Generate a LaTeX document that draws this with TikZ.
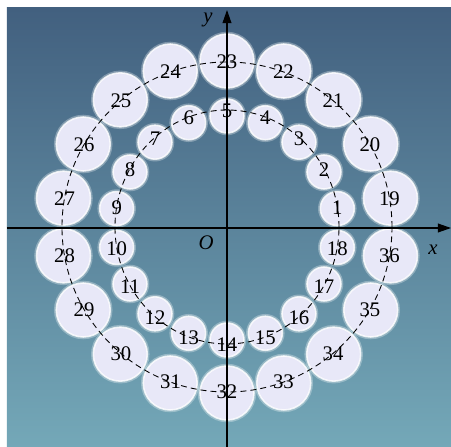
\documentclass[tikz,border=0pt]{standalone}
\usepackage{fontspec}
\setmainfont{Liberation Serif}
\usepackage{tikz}
\usetikzlibrary{arrows.meta,calc}
\definecolor{bgtop}{HTML}{42607F}
\definecolor{bgbottom}{HTML}{74A8B8}
\definecolor{discfill}{HTML}{E8E8F8}

\begin{document}
\begin{tikzpicture}[x=0.02cm, y=0.02cm,
  disc/.style={circle, fill=discfill, draw=white, draw opacity=0.8, line width=0.9pt, inner sep=0pt,
    preaction={draw=white, draw opacity=0.3, line width=2.6pt}},
  small/.style={disc, minimum size=0.68cm},
  big/.style={disc, minimum size=1.08cm},
  num/.style={font=\fontsize{11.8}{12}\selectfont, inner sep=0pt},
  ring/.style={dash pattern=on 3.4pt off 2.3pt, line width=0.5pt},
  axis/.style={-{Triangle[length=7.4pt, width=5pt]}, line width=0.6pt}
]
\useasboundingbox (-227,228) rectangle (224,-219);
\shade[top color=bgtop, bottom color=bgbottom] (-220,220) rectangle (224,-219);

% discs of the two rings
\foreach \k in {1,...,18} {
  \pgfmathsetmacro\a{20*\k-10}
  \node[small] (in\k) at (\a:112) {};
  \node[big] (out\k) at ($(0,1)+(\a:166)$) {};
}

\draw[ring] (0,1) ellipse [x radius=112, y radius=117];
\draw[ring] (0,1) circle [radius=165];

% axes
\coordinate (xl) at (-220,0);
\coordinate (xr) at (224,0);
\coordinate (yb) at (0,-219);
\coordinate (yt) at (0,218);
\draw[axis] (xl) -- (xr);
\draw[axis] (yb) -- (yt);
\node[num, font=\fontsize{11.8}{12}\selectfont\itshape] (xlab) at (206,-22) {x};
\node[num, font=\fontsize{11.8}{12}\selectfont\itshape] (ylab) at (-19,208) {y};
\node[num, font=\fontsize{11.8}{12}\selectfont\itshape] (olab) at (-21,-15) {O};

% numbers
\foreach \k in {1,...,18} {
  \pgfmathsetmacro\a{20*\k-10}
  \pgfmathtruncatemacro\m{\k+18}
  \node[num] (n\k) at (\a:112 and 117) {\k};
  \node[num] (n\m) at ($(0,1)+(\a:165)$) {\m};
}
\end{tikzpicture}
\end{document}
